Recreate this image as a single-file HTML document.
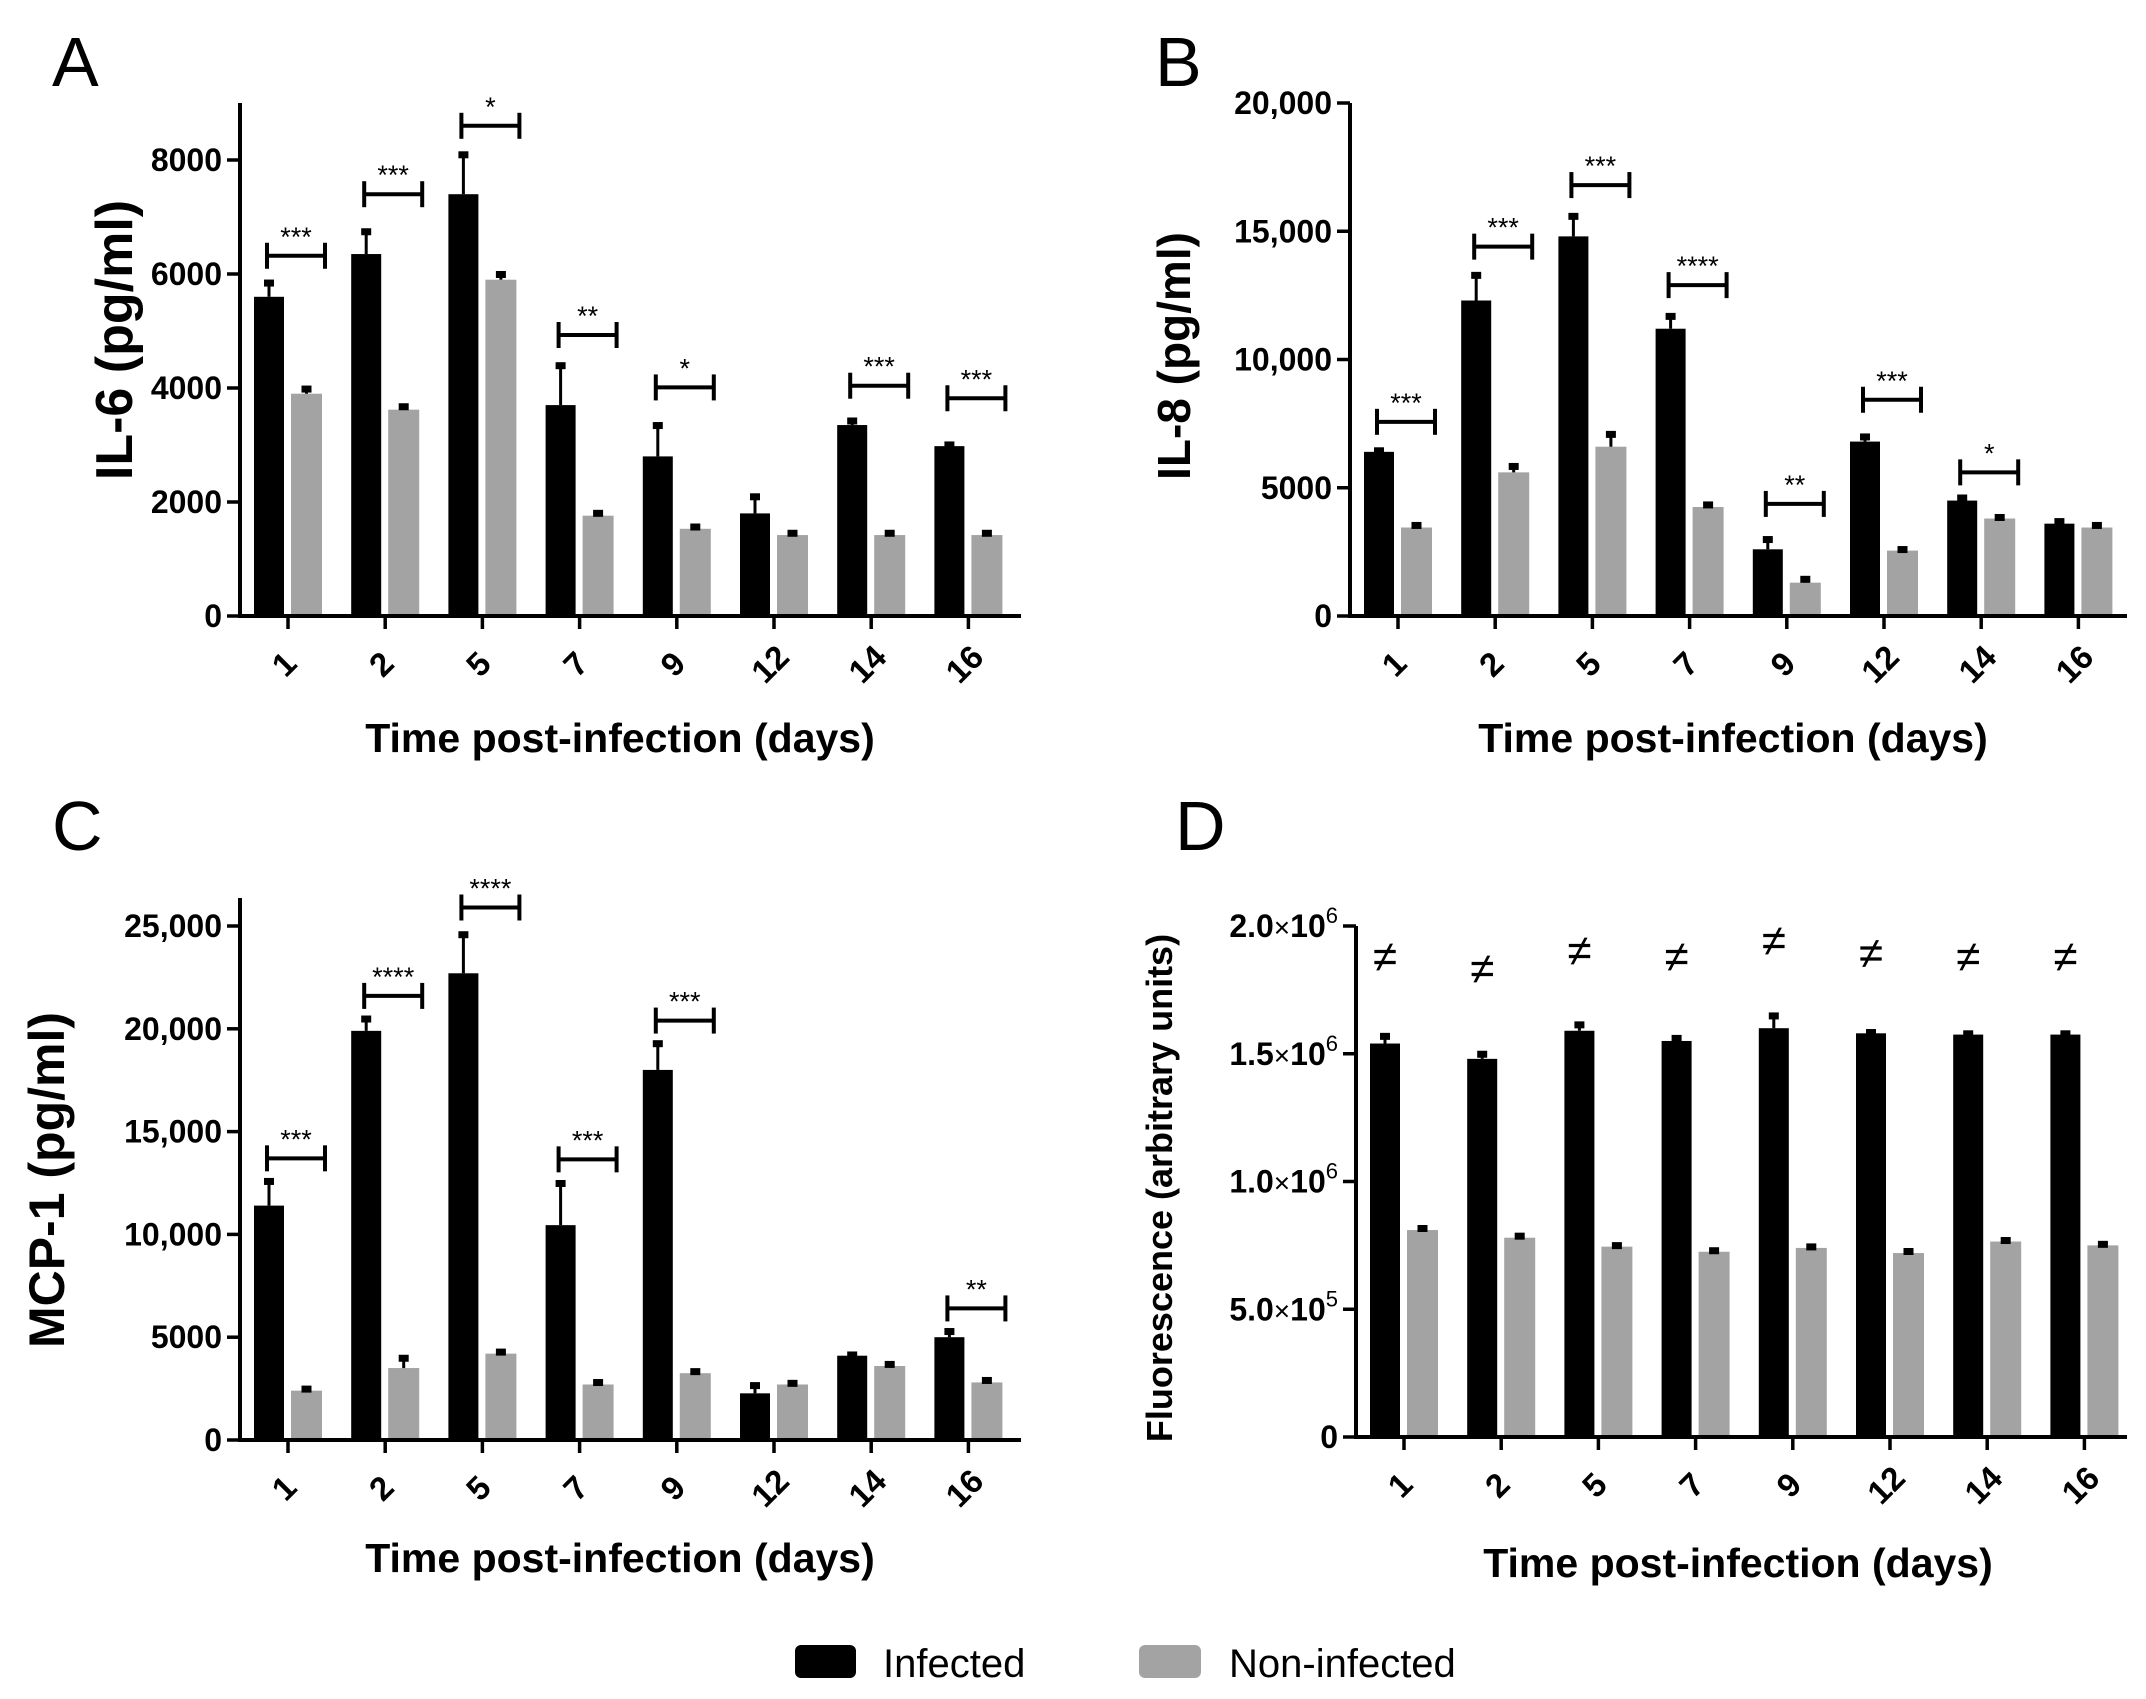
<!DOCTYPE html>
<html><head><meta charset="utf-8"><style>
html,body{margin:0;padding:0;background:#fff}
svg{display:block}
text{font-family:"Liberation Sans",Arial,sans-serif}
</style></head><body>
<svg id="fig" width="2146" height="1699" viewBox="0 0 2146 1699" xmlns="http://www.w3.org/2000/svg"></svg>
<script>
const categories = ["1","2","5","7","9","12","14","16"];
// Panel A IL-6
const il6Inf = [5600,6350,7400,3700,2800,1800,3350,2980];
const il6InfErr = [250,400,700,700,550,300,80,30];
const il6Non = [3900,3620,5900,1760,1530,1420,1420,1420];
const il6NonErr = [90,60,100,50,40,40,40,40];
const il6SigY = [6320,7400,8600,4930,4010,null,4040,3820];
const il6SigLbl = ["***","***","*","**","*","","***","***"];
const il6Ticks = [0,2000,4000,6000,8000];
const il6TickLbl = ["0","2000","4000","6000","8000"];
// Panel B IL-8
const il8Inf = [6400,12300,14800,11200,2600,6800,4500,3600];
const il8InfErr = [60,1000,800,500,400,200,120,100];
const il8Non = [3450,5600,6600,4250,1300,2550,3800,3450];
const il8NonErr = [100,250,500,100,150,60,60,100];
const il8SigY = [7570,14400,16800,12900,4370,8430,5600,null];
const il8SigLbl = ["***","***","***","****","**","***","*",""];
const il8Ticks = [0,5000,10000,15000,20000];
const il8TickLbl = ["0","5000","10,000","15,000","20,000"];
// Panel C MCP-1
const mcpInf = [11400,19900,22700,10450,18000,2270,4100,5000];
const mcpInfErr = [1200,600,1900,2050,1300,400,60,300];
const mcpNon = [2400,3500,4200,2700,3250,2700,3600,2800];
const mcpNonErr = [100,500,100,120,100,80,100,120];
const mcpSigY = [13700,21600,25900,13650,20400,null,null,6400];
const mcpSigLbl = ["***","****","****","***","***","","","**"];
const mcpTicks = [0,5000,10000,15000,20000,25000];
const mcpTickLbl = ["0","5000","10,000","15,000","20,000","25,000"];
// Panel D fluorescence
const fluInf = [1540000,1480000,1590000,1550000,1600000,1580000,1575000,1575000];
const fluInfErr = [30000,20000,25000,12000,50000,5000,5000,5000];
const fluNon = [810000,780000,745000,725000,740000,720000,765000,750000];
const fluNonErr = [8000,8000,6000,6000,6000,8000,6000,6000];
const fluNeqY = [1877000,1830000,1900000,1877000,1940000,1890000,1877000,1877000];
const fluTicks = [0,500000,1000000,1500000,2000000];
const fluTickMant = ["0","5.0","1.0","1.5","2.0"];
const fluTickExp = ["","5","6","6","6"];

const NS="http://www.w3.org/2000/svg";
const svg=document.getElementById('fig');
function el(tag,attrs,parent,txt){const e=document.createElementNS(NS,tag);for(const k in attrs)e.setAttribute(k,attrs[k]);if(txt!==undefined)e.textContent=txt;(parent||svg).appendChild(e);return e;}

function panel(cfg){
  const g=el('g',{});
  
  
  const {ax,base,top,xend,vmax,vtop}=cfg;
  const y=v=>base-(v/vmax)*(base-vtop);
  const x=i=>ax+48+i*97.2;
  categories.forEach((c,i)=>{
    const cx=x(i);
    const bi=el('rect',{x:cx-34,y:y(cfg.inf[i]),width:30,height:base-y(cfg.inf[i]),fill:'#000'},g);
    
    
    const bn=el('rect',{x:cx+3,y:y(cfg.non[i]),width:31,height:base-y(cfg.non[i]),fill:'#a3a3a3'},g);
    
    
    [[cx-19,cfg.inf[i],cfg.infErr[i]],[cx+18.5,cfg.non[i],cfg.nonErr[i]]].forEach(([ex,v,e])=>{
      const eb=el('g',{},g);
      
      
      el('line',{x1:ex,x2:ex,y1:y(v),y2:y(v+e),stroke:'#000','stroke-width':3},eb);
      el('rect',{x:ex-5,y:y(v+e)-3,width:10,height:7,fill:'#000'},eb);
    });
    if(cfg.sigY && cfg.sigY[i]!=null){
      const sb=el('g',{},g);
      
      
      const yy=y(cfg.sigY[i]);
      el('line',{x1:cx-21,x2:cx+37,y1:yy,y2:yy,stroke:'#000','stroke-width':4},sb);
      el('line',{x1:cx-21,x2:cx-21,y1:yy-13,y2:yy+13,stroke:'#000','stroke-width':4},sb);
      el('line',{x1:cx+37,x2:cx+37,y1:yy-13,y2:yy+13,stroke:'#000','stroke-width':4},sb);
      el('text',{x:cx+8,y:yy-10,'text-anchor':'middle','font-size':27},sb,cfg.sigLbl[i]);
    }
    if(cfg.neqY){
      const t=el('text',{x:cx-19,y:y(cfg.neqY[i])+14,'text-anchor':'middle','font-size':44},g,'≠');
      
      
    }
    el('line',{x1:cx,x2:cx,y1:base,y2:base+13,stroke:'#000','stroke-width':3.5},g);
    const tl=el('text',{x:cx-4,y:base+48,'text-anchor':'middle','dominant-baseline':'central','font-size':33,'font-weight':'bold',transform:`rotate(-45 ${cx-4} ${base+48})`},g,c);
    
    
  });
  const ya=el('line',{x1:ax,x2:ax,y1:top,y2:base+2,stroke:'#000','stroke-width':4},g);
  
  
  const xa=el('line',{x1:ax-2,x2:xend,y1:base,y2:base,stroke:'#000','stroke-width':4},g);
  
  
  cfg.ticks.forEach((v,k)=>{
    const yy=y(v);
    el('line',{x1:ax-13,x2:ax,y1:yy,y2:yy,stroke:'#000','stroke-width':3.5},g);
    const t=el('text',{x:ax-18,y:yy+11,'text-anchor':'end','font-size':32,'font-weight':'bold'},g);
    
    
    if(cfg.exp && cfg.exp[k]){
      el('tspan',{},t,cfg.lbl[k]);
      el('tspan',{'font-weight':'normal','font-size':28},t,'×');
      el('tspan',{},t,'10');
      el('tspan',{dy:-14,'font-size':22,'font-weight':'normal'},t,cfg.exp[k]);
    } else t.textContent=cfg.lbl[k];
  });
  const cy=cfg.ytY;
  const yt=el('text',{x:cfg.ytx,y:cy,'text-anchor':'middle','font-size':cfg.ytSize,'font-weight':'bold',transform:`rotate(-90 ${cfg.ytx} ${cy})`},g,cfg.ytitle);
  
  
  const xt=el('text',{x:cfg.xtx,y:cfg.xty,'text-anchor':'middle','font-size':41,'font-weight':'bold'},g,'Time post-infection (days)');
  
  
  const pl=el('text',{x:cfg.lx,y:cfg.ly,'font-size':70},g,cfg.letter);
  
  
}

panel({name:'panel-a-il6',letter:'A',lx:52,ly:86,ax:240,base:616,top:103,xend:1021,vmax:8000,vtop:160,
  inf:il6Inf,infErr:il6InfErr,non:il6Non,nonErr:il6NonErr,sigY:il6SigY,sigLbl:il6SigLbl,ticks:il6Ticks,lbl:il6TickLbl,
  ytitle:'IL-6 (pg/ml)',ytx:132,ytY:340,ytSize:52,xtx:620,xty:752});
panel({name:'panel-b-il8',letter:'B',lx:1155,ly:86,ax:1350,base:616,top:103,xend:2127,vmax:20000,vtop:103,
  inf:il8Inf,infErr:il8InfErr,non:il8Non,nonErr:il8NonErr,sigY:il8SigY,sigLbl:il8SigLbl,ticks:il8Ticks,lbl:il8TickLbl,
  ytitle:'IL-8 (pg/ml)',ytx:1190,ytY:356,ytSize:46,xtx:1733,xty:752});
panel({name:'panel-c-mcp1',letter:'C',lx:52,ly:850,ax:240,base:1440,top:898,xend:1021,vmax:25000,vtop:926,
  inf:mcpInf,infErr:mcpInfErr,non:mcpNon,nonErr:mcpNonErr,sigY:mcpSigY,sigLbl:mcpSigLbl,ticks:mcpTicks,lbl:mcpTickLbl,
  ytitle:'MCP-1 (pg/ml)',ytx:64,ytY:1180,ytSize:50,xtx:620,xty:1572});
panel({name:'panel-d-fluorescence',letter:'D',lx:1175,ly:850,ax:1356,base:1437,top:926,xend:2127,vmax:2000000,vtop:926,
  inf:fluInf,infErr:fluInfErr,non:fluNon,nonErr:fluNonErr,neqY:fluNeqY,ticks:fluTicks,lbl:fluTickMant,exp:fluTickExp,
  ytitle:'Fluorescence (arbitrary units)',ytx:1172,ytY:1188,ytSize:36,xtx:1738,xty:1577});

const lg=el('g',{});


const l1=el('g',{},lg);


el('rect',{x:795,y:1645,width:61,height:33,rx:6,fill:'#000'},l1);
el('text',{x:883,y:1677,'font-size':40},l1,'Infected');
const l2=el('g',{},lg);


el('rect',{x:1139,y:1645,width:62,height:33,rx:6,fill:'#a3a3a3'},l2);
el('text',{x:1229,y:1677,'font-size':40},l2,'Non-infected');
</script>
</body></html>
